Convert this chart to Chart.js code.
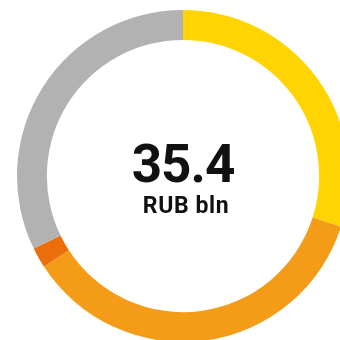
<!DOCTYPE html>
<html>
<head>
<meta charset="utf-8">
<script src="https://cdn.jsdelivr.net/npm/chart.js@4"></script>
<style>
    html, body { margin: 0; padding: 0; background: #fff; overflow: hidden; width: 340px; height: 340px; }
    #wrap { position: absolute; left: 0; top: 10px; width: 366px; height: 332px; }
</style>
</head>
<body>
<div id="wrap"><canvas id="donut"></canvas></div>
<script>
    // segment shares, RUB bln
    const segments = ['Segment 1', 'Segment 2', 'Segment 3', 'Segment 4']
    const amounts = [10.6, 12.7, 0.7, 11.4]
    const colors = ['#FFD400', '#F49B17', '#EC6E0B', '#B2B2B2']
    const totalLabel = '35.4'
    const unitLabel = 'RUB bln'

    const centerText = {
        id: 'centerText',
        afterDraw(chart) {
            const ctx = chart.ctx
            const meta = chart.getDatasetMeta(0).data[0]
            const x = meta.x
            const y = meta.y
            ctx.save()
            ctx.fillStyle = '#111'
            ctx.textAlign = 'center'
            ctx.textBaseline = 'alphabetic'
            ctx.font = 'bold 53px Roboto'
            ctx.letterSpacing = '-1px'
            ctx.fillText(totalLabel, x, y + 6)
            ctx.font = 'bold 23px Roboto'
            ctx.letterSpacing = '0.6px'
            ctx.fillText(unitLabel, x + 3, y + 37)
            ctx.restore()
        }
    }

    new Chart(document.getElementById('donut'), {
        type: 'doughnut',
        data: {
            labels: segments,
            datasets: [{
                data: amounts,
                backgroundColor: colors,
                borderWidth: 0
            }]
        },
        options: {
            responsive: true,
            maintainAspectRatio: false,
            animation: false,
            cutout: '82%',
            layout: { padding: 0 },
            plugins: {
                legend: { display: false },
                tooltip: { enabled: false }
            }
        },
        plugins: [centerText]
    })
</script>
</body>
</html>
